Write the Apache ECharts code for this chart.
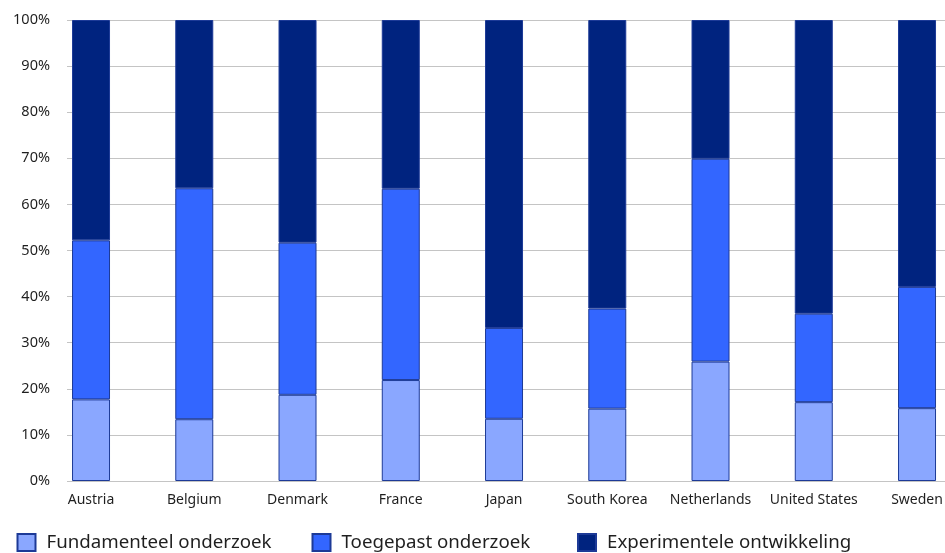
<!DOCTYPE html>
<html>
<head>
<meta charset="utf-8">
<script src="https://cdn.jsdelivr.net/npm/echarts@6/dist/echarts.min.js"></script>
<style>
  html, body { margin: 0; padding: 0; background: #ffffff; }
  #chart { width: 945px; height: 553px; }
</style>
</head>
<body>
<div id="chart"></div>
<script>
// Countries on the category axis
const categories = ['Austria', 'Belgium', 'Denmark', 'France', 'Japan', 'South Korea', 'Netherlands', 'United States', 'Sweden'];

// Share of R&D spending per type (%), stacked to 100
const fundamenteel = [17.7, 13.4, 18.7, 21.9, 13.5, 15.7, 25.9, 17.1, 15.8];
const toegepast = [34.5, 50.1, 33.0, 41.5, 19.7, 21.7, 44.0, 19.2, 26.3];
const experimenteel = [47.8, 36.5, 48.3, 36.6, 66.8, 62.6, 30.1, 63.7, 57.9];

// Series names as shown in the legend
const seriesNames = ['Fundamenteel onderzoek', 'Toegepast onderzoek', 'Experimentele ontwikkeling'];

const FONT = '"Noto Sans", sans-serif';
const TEXT = '#1f1f1f';
const colors = ['#8AA7FF', '#3366FF', '#00237F'];
const edge = '#1D3A97';

const chart = echarts.init(document.getElementById('chart'), null, { renderer: 'canvas' });

function barSeries(name, data, color) {
  return {
    name: name,
    type: 'bar',
    stack: 'total',
    xAxisIndex: 1,
    yAxisIndex: 1,
    barWidth: 38,
    data: data,
    itemStyle: { color: color, borderColor: edge, borderWidth: 1 },
    emphasis: { disabled: true }
  };
}

function legendAt(left, name) {
  return {
    left: left,
    top: 528,
    data: [name],
    icon: 'rect',
    itemWidth: 18,
    itemHeight: 17,
    itemGap: 0,
    selectedMode: false,
    textStyle: { fontFamily: FONT, fontSize: 18.7, color: TEXT, padding: [0, 0, 0, 6] }
  };
}

chart.setOption({
  animation: false,
  backgroundColor: '#ffffff',
  grid: [
    // gridlines and percentage scale
    { left: 67, right: 0, top: 20, height: 461, outerBoundsMode: 'none' },
    // bars and country labels (the last band runs past the right edge)
    { left: 39.4, width: 929.25, top: 20, height: 461, outerBoundsMode: 'none' }
  ],
  xAxis: [
    { type: 'category', gridIndex: 0, data: categories, show: false },
    {
      type: 'category', gridIndex: 1, data: categories,
      axisLine: { show: false }, axisTick: { show: false },
      axisLabel: { fontFamily: FONT, fontSize: 14, color: TEXT, margin: 12, interval: 0 }
    }
  ],
  yAxis: [
    {
      type: 'value', gridIndex: 0, min: 0, max: 100, interval: 10,
      axisLine: { show: false }, axisTick: { show: false },
      axisLabel: { formatter: '{value}%', fontFamily: FONT, fontSize: 14.5, color: TEXT, margin: 17 },
      splitLine: { lineStyle: { color: '#C4C4C4', width: 1 } }
    },
    {
      type: 'value', gridIndex: 1, min: 0, max: 100, interval: 10, show: false,
      splitLine: { show: false }
    }
  ],
  legend: [
    legendAt(11.5, seriesNames[0]),
    legendAt(306.5, seriesNames[1]),
    legendAt(572, seriesNames[2])
  ],
  series: [
    barSeries(seriesNames[0], fundamenteel, colors[0]),
    barSeries(seriesNames[1], toegepast, colors[1]),
    barSeries(seriesNames[2], experimenteel, colors[2])
  ]
});
</script>
</body>
</html>
